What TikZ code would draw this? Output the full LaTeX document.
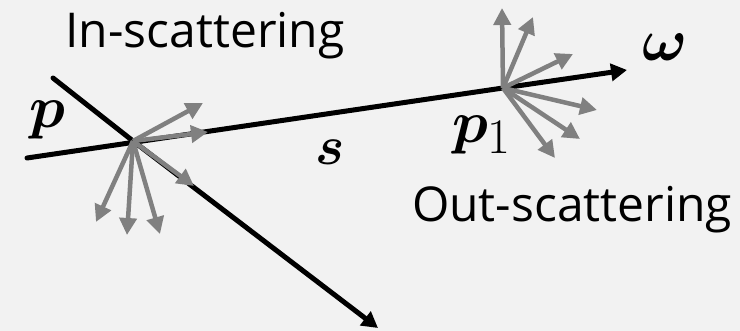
\documentclass[tikz,border=0pt]{standalone}
\usepackage{amsmath,bm}
\usepackage{graphicx}
\usepackage{fontspec}
\setmainfont{Open Sans}
\usepackage{tikz}
\usetikzlibrary{arrows.meta}

\definecolor{bgcol}{HTML}{F2F2F2}
\definecolor{raygray}{HTML}{808080}
\newcommand{\bigsym}[1]{\scalebox{2.4}{\Huge$#1$}}

\begin{document}
\begin{tikzpicture}[
  x=1pt, y=-1pt,
  ray/.style={line width=5pt, line cap=round, -{Triangle[length=16pt, width=17pt]}},
  scat/.style={draw=raygray, line width=4.5pt, -{Triangle[length=17pt, width=17pt]}},
  txt/.style={font=\fontsize{48}{52}\selectfont, anchor=base, inner sep=0pt},
  sym/.style={inner sep=0pt}
]
\fill[bgcol] (0,0) rectangle (740,331);
\useasboundingbox (0,0) rectangle (740,331);

% points on the two rays
\coordinate (start) at (27,158);
\coordinate (hubin) at (133,141);
\coordinate (hubout) at (503,88);
\coordinate (tip) at (627,70);
\coordinate (crossstart) at (53,78);
\coordinate (crosstip) at (378,328);

\draw[ray] (crossstart) -- (hubin) -- (crosstip);
\draw[ray] (start) -- (hubout) -- (tip);

% in-scattering fan
\foreach \ex/\ey in {203/103, 208/132, 194/186, 96/222, 127/235, 160/234}
  \draw[scat] (hubin) -- (\ex,\ey);
% out-scattering fan
\foreach \ex/\ey in {502/8, 533/17, 573/54, 597/110, 580/139, 555/158}
  \draw[scat] (hubout) -- (\ex,\ey);

\node[txt] (inlbl) at (205,48) {In-scattering};
\node[txt] (outlbl) at (572,222) {Out-scattering};
\node[sym] (plbl) at (47,120) {\bigsym{\bm{p}}};
\node[sym] (p1lbl) at (482,135) {\bigsym{\bm{p}_1}};
\node[sym] (slbl) at (330,152) {\scalebox{0.92}{\bigsym{\bm{s}}}};
\node[sym] (wlbl) at (665,47) {\bigsym{\bm{\omega}}};
\end{tikzpicture}
\end{document}
